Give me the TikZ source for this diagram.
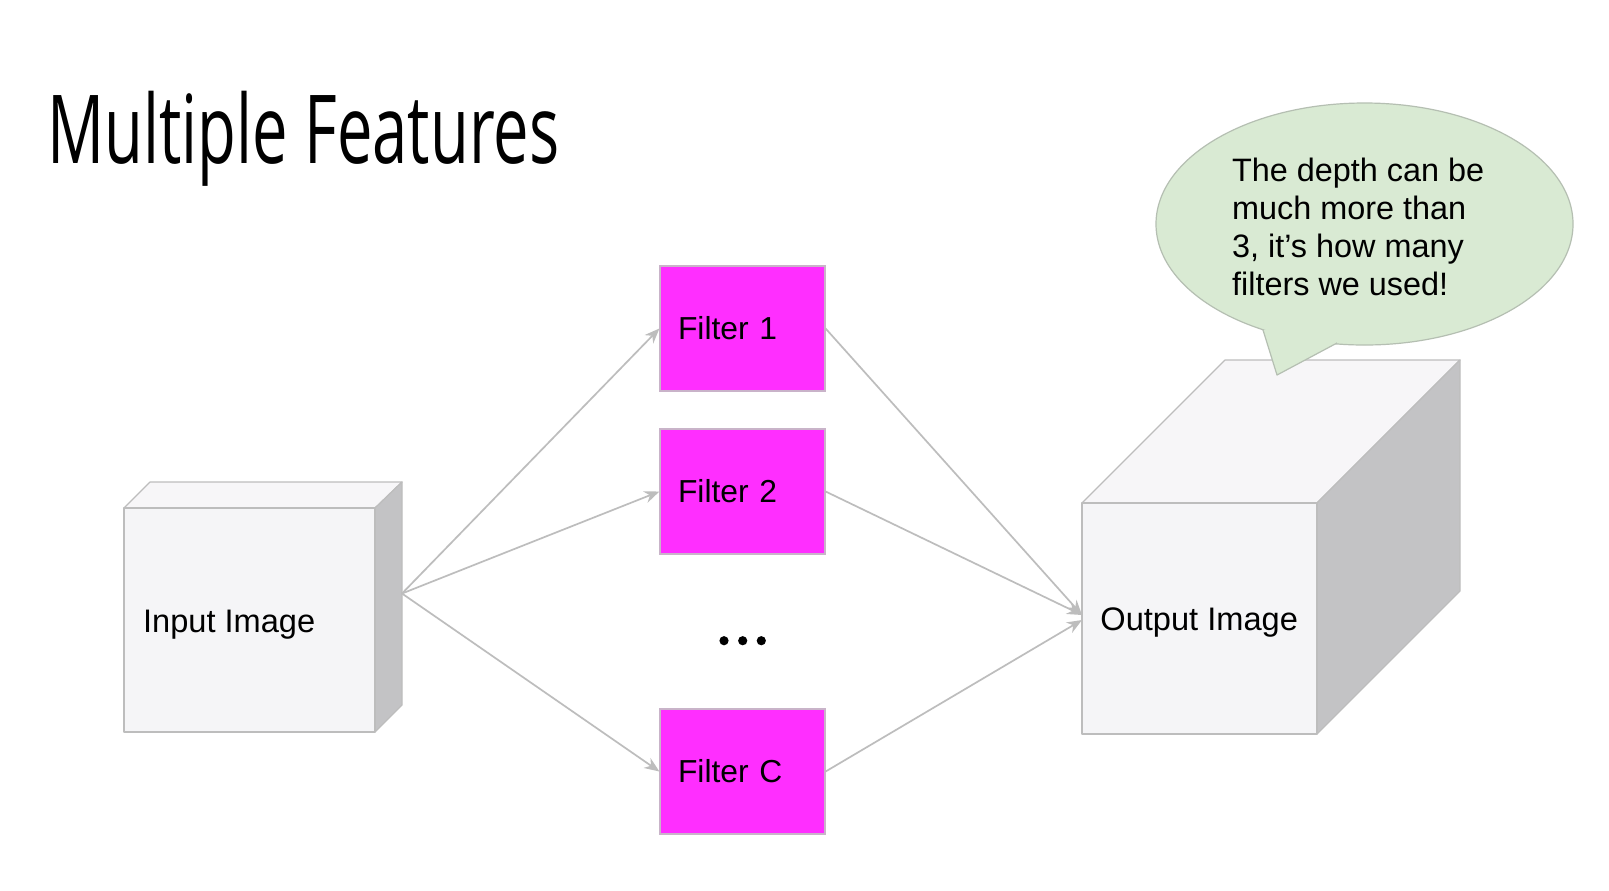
\documentclass[tikz,border=0pt]{standalone}
\usepackage{fontspec}
\usepackage{graphicx}
\setmainfont{Liberation Sans}
\newfontfamily\titlefont{Open Sans}
\usetikzlibrary{arrows.meta}
\definecolor{magfill}{HTML}{FF2EFF}
\definecolor{magline}{HTML}{C9B3C9}
\definecolor{facefill}{HTML}{F5F5F7}
\definecolor{topfill}{HTML}{F7F6F8}
\definecolor{sidefill}{HTML}{C3C3C5}
\definecolor{cubeline}{HTML}{BDBDBD}
\definecolor{arrowgray}{HTML}{BDBDBD}
\definecolor{bubblefill}{HTML}{D9EAD3}
\definecolor{bubbleline}{HTML}{B5BFB2}
\begin{document}
\begin{tikzpicture}[x=0.5pt,y=-0.5pt,
  filterbox/.style={rectangle, draw=magline, line width=0.6pt, fill=magfill,
    minimum width=82.5pt, minimum height=62.5pt, text width=64.5pt,
    align=left, inner xsep=8.5pt, inner ysep=0pt,
    font=\fontsize{15.9pt}{19pt}\selectfont},
  face/.style={draw=cubeline, line width=0.6pt, fill=facefill, line join=round},
  topface/.style={draw=cubeline, line width=0.6pt, fill=topfill, line join=round},
  sideface/.style={draw=cubeline, line width=0.6pt, fill=sidefill, line join=round},
  cubelabel/.style={anchor=base west, inner sep=0pt, font=\fontsize{16.3pt}{19.6pt}\selectfont},
  conn/.style={draw=arrowgray, line width=0.85pt, -{Stealth[length=7.5pt,width=6pt]}}
]
\useasboundingbox (0,0) rectangle (1609,890);
\fill[white] (0,0) rectangle (1609,890);

% title
\node[anchor=base west, inner sep=0pt] (title) at (47,163.3)
  {\resizebox{256pt}{\height}{\fontsize{47.6pt}{50pt}\titlefont Multiple Features}};

% input cube
\draw[topface] (124,508) -- (150,482) -- (402,482) -- (375,508) -- cycle;
\draw[sideface] (375,508) -- (402,482) -- (402,705) -- (375,732) -- cycle;
\node[face, rectangle, minimum width=125.5pt, minimum height=112pt, inner sep=0pt] (infront) at (249.5,620) {};
\node[cubelabel] (inlabel) at (142.7,632.7) {Input Image};
\coordinate (inport) at (402,593.5);

% output cube
\draw[topface] (1082,503) -- (1225,360) -- (1460,360) -- (1317,503) -- cycle;
\draw[sideface] (1317,503) -- (1460,360) -- (1460,591) -- (1317,734) -- cycle;
\node[face, rectangle, minimum width=117.5pt, minimum height=115.5pt, inner sep=0pt] (outfront) at (1199.5,618.5) {};
\node[cubelabel] (outlabel) at (1100,630) {Output Image};
\coordinate (outportA) at (1082,615);
\coordinate (outportB) at (1082,620);

% filters
\node[filterbox] (f1) at (742.5,328.5) {Filter 1};
\node[filterbox] (f2) at (742.5,491.5) {Filter 2};
\node[filterbox] (fc) at (742.5,771.5) {Filter C};

% dots
\fill[black] (724,640.7) circle (2.3pt) (742.7,640.7) circle (2.3pt) (761.3,640.7) circle (2.3pt);

% connectors
\draw[conn] (inport) -- (f1.west);
\draw[conn] (inport) -- (f2.west);
\draw[conn] (inport) -- (fc.west);
\draw[conn] (f1.east) -- (outportA);
\draw[conn] (f2.east) -- (outportA);
\draw[conn] (fc.east) -- (outportB);

% speech bubble
\draw[draw=bubbleline, line width=0.6pt, fill=bubblefill] (1364.5,224) ellipse [x radius=104.25pt, y radius=60.5pt];
\fill[bubblefill] (1263,330) -- (1277,375) -- (1337,343) -- (1300,322) -- cycle;
\draw[bubbleline, line width=0.6pt, line join=round] (1263,330) -- (1277,375) -- (1337,343);
\node[anchor=north west, inner sep=0pt, align=left, font=\fontsize{16.2pt}{19pt}\selectfont] (bubbletext) at (1231.7,157.5)
  {The depth can be\\much more than\\3, it’s how many\\filters we used!};
\end{tikzpicture}
\end{document}
